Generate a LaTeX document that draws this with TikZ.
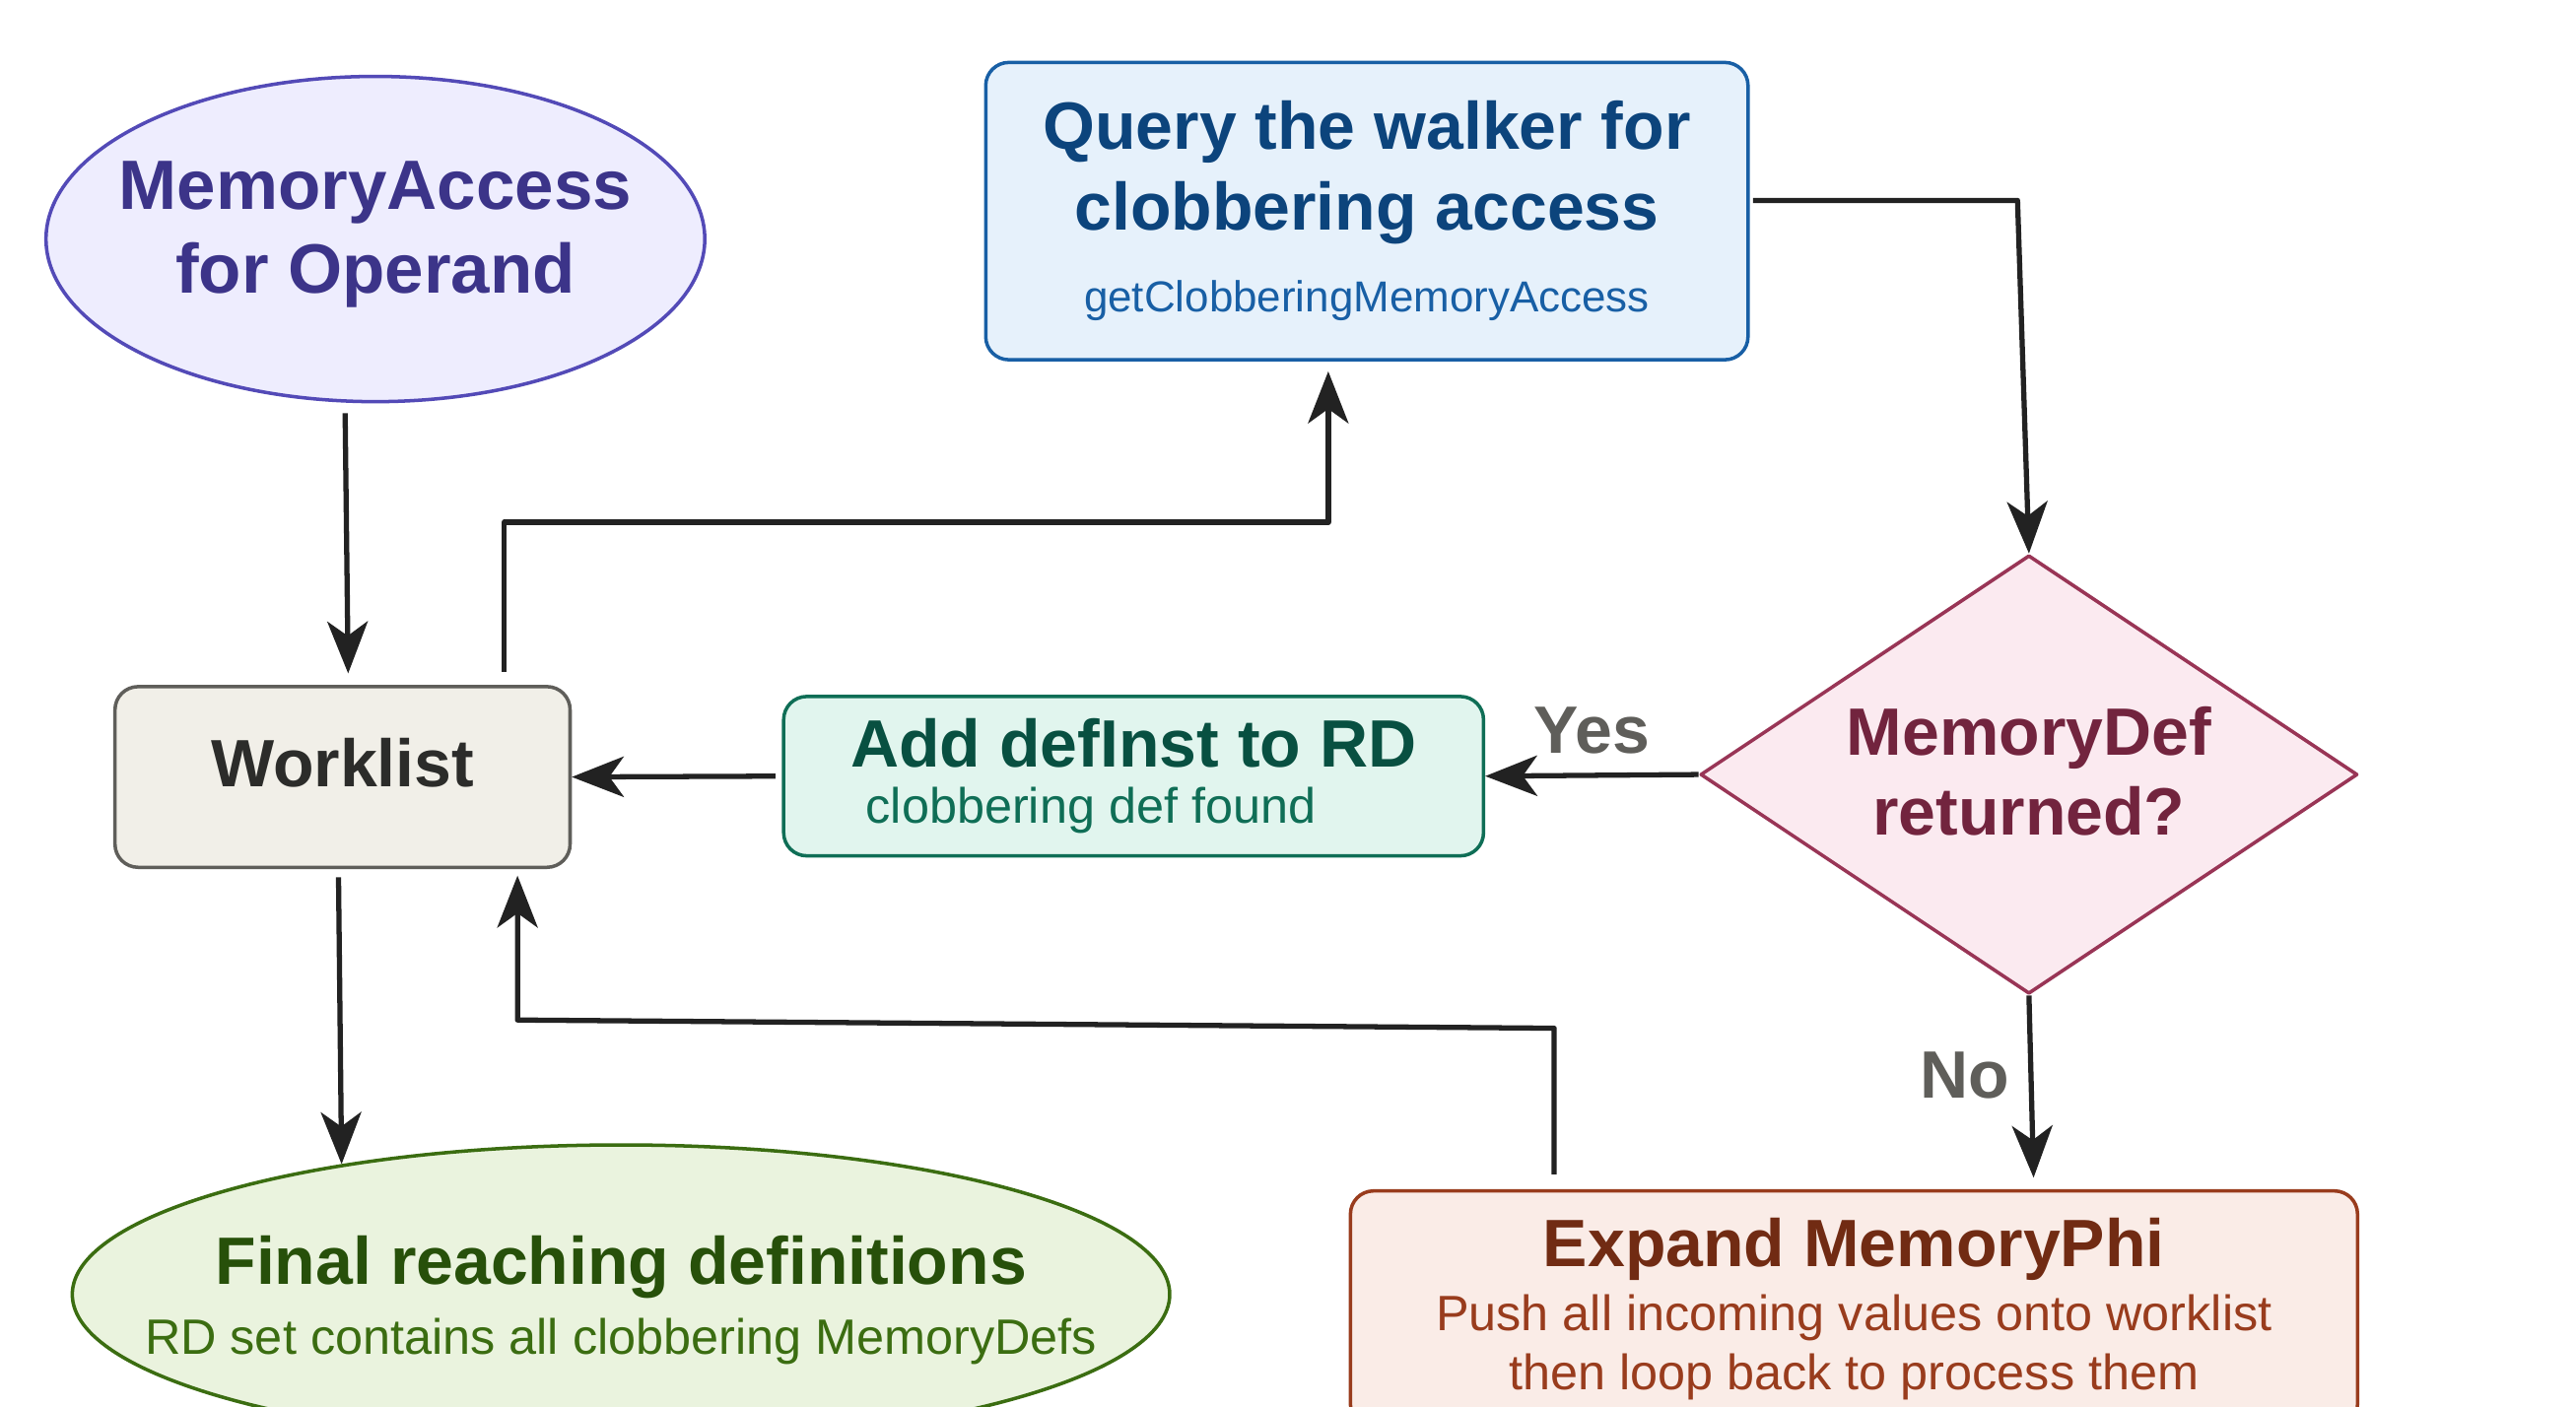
\documentclass[tikz,border=0pt]{standalone}
\usepackage{fontspec}
\setmainfont{Liberation Sans}
\usetikzlibrary{arrows.meta, shapes.geometric}
\definecolor{linec}{HTML}{222222}
\definecolor{lblc}{HTML}{5F5E5A}
\definecolor{accfill}{HTML}{EEEDFE}\definecolor{accline}{HTML}{534AB7}\definecolor{acctext}{HTML}{3C3489}
\definecolor{qfill}{HTML}{E6F1FB}\definecolor{qline}{HTML}{185FA5}\definecolor{qtext}{HTML}{0C447C}
\definecolor{decfill}{HTML}{FBEAF0}\definecolor{decline}{HTML}{993556}\definecolor{dectext}{HTML}{72243E}
\definecolor{addfill}{HTML}{E1F5EE}\definecolor{addline}{HTML}{0F6E56}\definecolor{addtext}{HTML}{085041}
\definecolor{wfill}{HTML}{F1EFE8}\definecolor{wline}{HTML}{5F5E5A}\definecolor{wtext}{HTML}{2C2C2A}
\definecolor{finfill}{HTML}{EAF3DE}\definecolor{finline}{HTML}{3B6D11}\definecolor{fintext}{HTML}{27500A}
\definecolor{expfill}{HTML}{FAECE7}\definecolor{expline}{HTML}{993C1D}\definecolor{exptext}{HTML}{712B13}
\newcommand{\boxtitle}{\fontsize{11.6}{13.9}\selectfont\bfseries}
\newcommand{\boxsub}{\fontsize{8.6}{13.9}\selectfont\mdseries}
\newcommand{\boxcall}{\fontsize{7.5}{13.9}\selectfont\mdseries}
\tikzset{
		box/.style={rectangle, rounded corners=4pt, line width=0.6pt, inner sep=0pt, align=center, font=\boxtitle},
		oval/.style={ellipse, line width=0.6pt, inner sep=0pt},
		txt/.style={inner sep=0pt, align=center, font=\boxtitle},
		flow/.style={->, line width=0.9pt, draw=linec},
		lbl/.style={text=lblc, font=\boxtitle}
	}
\begin{document}
\begin{tikzpicture}[>={Stealth[length=9pt,width=7pt,inset=2.5pt]}, line join=round]
				\useasboundingbox (0,0) rectangle (15.68,-8.56);

				\node[oval, fill=accfill, draw=accline, minimum width=4.01cm, minimum height=1.98cm] (access) at (2.285,-1.455) {};
				\node[txt, text=acctext, font=\fontsize{12.1}{14.5}\selectfont\bfseries] (t-access) at (2.285,-1.43) {MemoryAccess\\for Operand};
				\node[box, fill=qfill, draw=qline, text=qtext, minimum width=4.64cm, minimum height=1.81cm] (query) at (8.32,-1.285)
					{Query the walker for\\clobbering access\\[0.3pt]\boxcall\color{qline}getClobberingMemoryAccess};
				\node[diamond, fill=decfill, draw=decline, line width=0.6pt, inner sep=0pt, minimum width=4cm, minimum height=2.67cm] (dec) at (12.35,-4.715) {};
				\node[txt, text=dectext] (t-dec) at (12.35,-4.695) {MemoryDef\\returned?};
				\node[box, fill=addfill, draw=addline, text=addtext, minimum width=4.26cm, minimum height=0.97cm] (add) at (6.90,-4.725)
					{Add defInst to RD\\[-4.2pt]\boxsub\color{addline}clobbering def found\hspace*{0.52cm}};
				\node[box, fill=wfill, draw=wline, text=wtext, minimum width=2.77cm, minimum height=1.10cm, text depth=0.18cm] (work) at (2.085,-4.73) {Worklist};
				\node[oval, fill=finfill, draw=finline, minimum width=6.68cm, minimum height=1.82cm] (final) at (3.78,-7.88) {};
				\node[txt, text=fintext] (t-final) at (3.78,-7.915) {Final reaching definitions\\[-1.7pt]\boxsub\color{finline}RD set contains all clobbering MemoryDefs};
				\node[box, fill=expfill, draw=expline, text=exptext, minimum width=6.13cm, minimum height=1.44cm] (expand) at (11.285,-7.97)
					{Expand MemoryPhi\\[-2.8pt]\boxsub\color{expline}Push all incoming values onto worklist\\[-3.7pt]\boxsub\color{expline}then loop back to process them};

				\draw[flow, shorten <=0.06cm, shorten >=0.07cm] ([xshift=-0.185cm]access.south) -- ([xshift=0.035cm]work.north);
				\draw[flow, shorten <=0.08cm, shorten >=0.06cm] ([xshift=0.985cm]work.north) -- ++(0,0.99) -| ([xshift=-0.235cm]query.south);
				\draw[flow, shorten <=0.02cm] ([yshift=0.065cm]query.east) -- ++(1.63,0) -- (dec.north);
				\draw[flow] (dec.west) -- (add.east) node[lbl, above, pos=0.5] {Yes};
				\draw[flow, shorten <=0.04cm] (add.west) -- (work.east);
				\draw[flow, shorten <=0.05cm] ([xshift=-0.025cm]work.south) -- (final.155);
				\draw[flow, shorten >=0.07cm] (dec.south) -- ([xshift=1.095cm]expand.north) node[lbl, left, pos=0.41] {No};
				\draw[flow, shorten <=0.09cm, shorten >=0.04cm] ([xshift=-1.825cm]expand.north) -- ++(0,0.98) -- ++(-6.31,0.05) -- ([xshift=1.065cm]work.south);
			\end{tikzpicture}
\end{document}
